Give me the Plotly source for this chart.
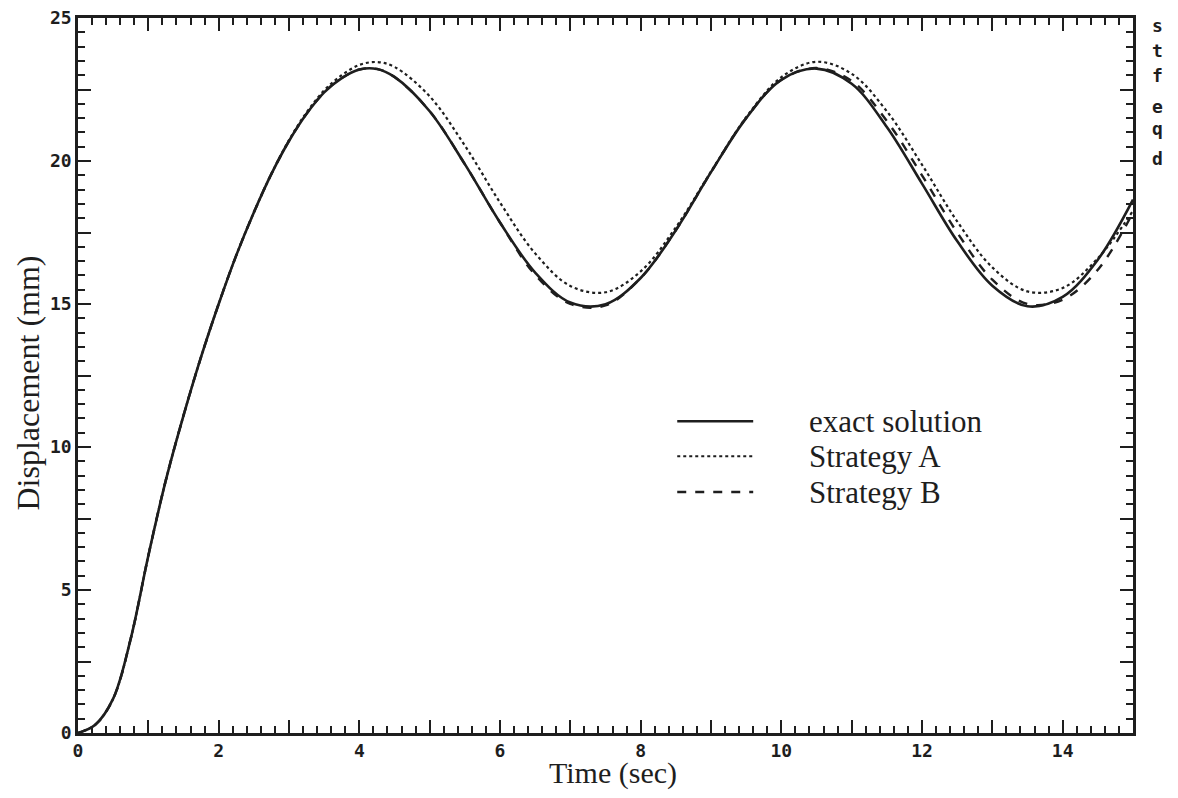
import plotly.graph_objects as go

# time samples (s)
t = [0, 0.25, 0.5, 0.75, 1.0, 1.25, 1.5, 1.75, 2.0, 2.25, 2.5, 2.75, 3.0, 3.25, 3.5, 3.75, 4.0, 4.25, 4.5,
     5.0, 5.5, 6.0, 6.5, 7.0, 7.5, 8.0, 8.5, 9.0, 9.5, 10.0, 10.5, 11.0, 11.5,
     12.0, 12.5, 13.0, 13.5, 14.0, 14.5, 15.0]

exact = [0.0, 0.3, 1.2, 3.3, 6.2, 8.85, 11.1, 13.15, 15.0, 16.7, 18.2, 19.55, 20.7, 21.65, 22.4, 22.9, 23.2, 23.22, 22.94,
         21.74, 19.89, 17.85, 16.1, 15.05, 14.99, 15.91, 17.58, 19.61, 21.5, 22.84, 23.23, 22.7, 21.19,
         19.21, 17.2, 15.64, 14.92, 15.25, 16.55, 18.65]

strategy_a = [0.0, 0.3, 1.2, 3.3, 6.2, 8.85, 11.1, 13.15, 15.0, 16.7, 18.2, 19.55, 20.73, 21.7, 22.47, 23.0, 23.36, 23.46, 23.29,
              22.26, 20.54, 18.55, 16.77, 15.63, 15.41, 16.14, 17.68, 19.63, 21.53, 22.93, 23.47, 23.05, 21.74,
              19.87, 17.89, 16.28, 15.44, 15.56, 16.6, 18.26]

strategy_b = [0.0, 0.3, 1.2, 3.3, 6.2, 8.85, 11.1, 13.15, 15.0, 16.7, 18.2, 19.55, 20.7, 21.65, 22.4, 22.9, 23.2, 23.22, 22.94,
              21.74, 19.89, 17.85, 16.02, 15.0, 14.95, 15.91, 17.58, 19.61, 21.5, 22.84, 23.25, 22.8, 21.4,
              19.5, 17.5, 15.85, 15.0, 15.15, 16.2, 18.2]

x_ticks = list(range(0, 16))
x_ticktext = [str(v) if v % 2 == 0 else "" for v in x_ticks]
y_ticks = [0, 2.5, 5, 7.5, 10, 12.5, 15, 17.5, 20, 22.5, 25]
y_ticktext = [str(int(v)) if v % 5 == 0 else "" for v in y_ticks]

x_title = "Time (sec)"
y_title = "Displacement (mm)"
legend_names = ["exact solution", "Strategy A", "Strategy B"]
legend_dashes = ["solid", "dot", "dash"]
side_letters = ["s", "t", "f", "e", "q", "d"]

INK = "#1e1e1e"

fig = go.Figure()
fig.add_trace(go.Scatter(x=t, y=exact, mode="lines", line=dict(color=INK, width=2.6, shape="spline"),
                         name=legend_names[0], showlegend=False))
fig.add_trace(go.Scatter(x=t, y=strategy_a, mode="lines", line=dict(color=INK, width=2.2, dash="dot", shape="spline"),
                         name=legend_names[1], showlegend=False))
fig.add_trace(go.Scatter(x=t, y=strategy_b, mode="lines", line=dict(color=INK, width=2.4, dash="dash", shape="spline"),
                         name=legend_names[2], showlegend=False))

tickfont = dict(family="DejaVu Sans Mono", size=18, color=INK, weight="bold")
letterfont = dict(family="DejaVu Sans Mono", size=18, color=INK, weight="bold")
serif = dict(family="Liberation Serif", size=31, color=INK)
serif_x = dict(family="Liberation Serif", size=30, color=INK)
serif_y = dict(family="Liberation Serif", size=32, color=INK)

fig.update_xaxes(range=[0, 15], tickvals=x_ticks, ticktext=x_ticktext, ticks="inside", ticklen=13,
                 tickwidth=2, tickcolor=INK, showline=True, linewidth=2.5, linecolor=INK, mirror="ticks",
                 showgrid=False, zeroline=False, tickfont=tickfont, automargin=False,
                 ticklabeloverflow="allow",
                 minor=dict(dtick=0.2, ticks="inside", ticklen=7, tickwidth=2, tickcolor=INK, showgrid=False))
fig.update_yaxes(range=[0, 25], tickvals=y_ticks, ticktext=y_ticktext, ticks="inside", ticklen=13,
                 tickwidth=2, tickcolor=INK, showline=True, linewidth=2.5, linecolor=INK, mirror="ticks",
                 showgrid=False, zeroline=False, tickfont=tickfont, automargin=False,
                 ticklabeloverflow="allow",
                 minor=dict(dtick=0.5, ticks="inside", ticklen=7, tickwidth=2, tickcolor=INK, showgrid=False))

# axis titles
fig.add_annotation(text=x_title, xref="paper", yref="paper", x=0.507, y=-0.056, xanchor="center",
                   yanchor="middle", showarrow=False, font=serif_x)
fig.add_annotation(text=y_title, xref="paper", yref="paper", x=-0.0475, y=0.49, xanchor="center",
                   yanchor="middle", textangle=-90, showarrow=False, font=serif_y)

# legend drawn as paper-coordinate samples + labels
rows_y = [0.436, 0.387, 0.337]
for name, dash, yy in zip(legend_names, legend_dashes, rows_y):
    fig.add_shape(type="line", xref="paper", yref="paper", x0=0.568, x1=0.640, y0=yy, y1=yy,
                  line=dict(color=INK, width=2.4 if dash != "dot" else 2.0, dash=dash))
    fig.add_annotation(text=name, xref="paper", yref="paper", x=0.691, y=yy, xanchor="left",
                       yanchor="middle", showarrow=False, font=serif)

letter_y = [0.990, 0.955, 0.920, 0.876, 0.845, 0.803]
for ch, yy in zip(side_letters, letter_y):
    fig.add_annotation(text=ch, xref="paper", yref="paper", x=1.016, y=yy, xanchor="left",
                       yanchor="middle", showarrow=False, font=letterfont)

fig.update_layout(width=1162, height=782, margin=dict(l=70, r=37, t=10, b=57),
                  plot_bgcolor="white", paper_bgcolor="white", showlegend=False)

fig.write_html("out.html")
